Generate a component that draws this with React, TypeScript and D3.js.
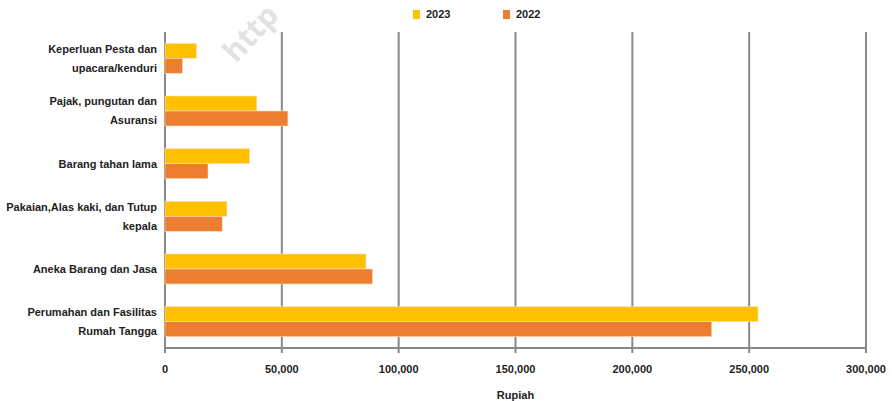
import React from "react";
import * as d3 from "d3";

const categories = [
  ["Keperluan Pesta dan", "upacara/kenduri"],
  ["Pajak, pungutan dan", "Asuransi"],
  ["Barang tahan lama"],
  ["Pakaian,Alas kaki, dan Tutup", "kepala"],
  ["Aneka Barang dan Jasa"],
  ["Perumahan dan Fasilitas", "Rumah Tangga"],
];
const values2023 = [13500, 39300, 36200, 26500, 86000, 253800];
const values2022 = [7500, 52600, 18400, 24500, 88800, 234000];
const seriesNames = ["2023", "2022"];
const seriesColors = ["#FFC000", "#ED7D31"];
const xTicks = [0, 50000, 100000, 150000, 200000, 250000, 300000];
const xTitle = "Rupiah";
const watermark = "http";

const W = 893;
const H = 401;
const FONT = "'Liberation Sans', Arial, sans-serif";

export default function App() {
  const left = 165;
  const right = 866;
  const top = 32;
  const bottom = 348;
  const x = d3.scaleLinear().domain([0, 300000]).range([left, right]);
  const y = d3
    .scaleBand<number>()
    .domain(d3.range(categories.length))
    .range([top, bottom]);
  const barH = 15;
  const fmt = d3.format(",");
  const series = [values2023, values2022];

  return (
    <svg
      width={W}
      height={H}
      style={{ position: "absolute", left: 0, top: 0, background: "#fff" }}
      fontFamily={FONT}
    >
      {/* watermark */}
      <text
        x={236}
        y={64}
        transform="rotate(-47 236 64)"
        fontSize={30}
        fontWeight="bold"
        fill="#e2e2e2"
        fontFamily="'Open Sans', sans-serif"
      >
        {watermark}
      </text>

      {/* gridlines */}
      {xTicks.map((t) => (
        <line
          key={"g" + t}
          x1={x(t)}
          x2={x(t)}
          y1={top}
          y2={bottom + 5}
          stroke="#8a8a8a"
          strokeWidth={2}
        />
      ))}
      <line x1={left} x2={right} y1={bottom} y2={bottom} stroke="#8a8a8a" strokeWidth={2} />

      {/* bars */}
      {categories.map((c, i) => {
        const cy = (y(i) as number) + y.bandwidth() / 2;
        return (
          <g key={"b" + i}>
            {series.map((vals, s) => (
              <rect
                key={s}
                x={x(0)}
                y={cy - barH + s * barH}
                width={x(vals[i]) - x(0)}
                height={barH}
                fill={seriesColors[s]}
                stroke="#fde2c0"
                strokeWidth={0.6}
              />
            ))}
          </g>
        );
      })}

      {/* category labels */}
      {categories.map((lines, i) => {
        const cy = (y(i) as number) + y.bandwidth() / 2;
        const lh = 19;
        const start = cy - ((lines.length - 1) * lh) / 2;
        return (
          <text
            key={"l" + i}
            textAnchor="end"
            fontSize={11}
            fontWeight="bold"
            fill="#222"
          >
            {lines.map((ln, k) => (
              <tspan key={k} x={157} y={start + k * lh} dy="0.35em">
                {ln}
              </tspan>
            ))}
          </text>
        );
      })}

      {/* x tick labels */}
      {xTicks.map((t) => (
        <text
          key={"t" + t}
          x={x(t)}
          y={369}
          dy="0.35em"
          textAnchor="middle"
          fontSize={11}
          fontWeight="bold"
          fill="#222"
        >
          {fmt(t)}
        </text>
      ))}
      <text x={x(150000)} y={395} dy="0.35em" textAnchor="middle" fontSize={11} fontWeight="bold" fill="#222">
        {xTitle}
      </text>

      {/* legend */}
      {seriesNames.map((n, s) => (
        <g key={"lg" + s} transform={`translate(${413 + s * 90},10)`}>
          <rect x={0} y={0} width={7} height={9} fill={seriesColors[s]} />
          <text x={13} y={4.5} dy="0.35em" fontSize={11} fontWeight="bold" fill="#222">
            {n}
          </text>
        </g>
      ))}
    </svg>
  );
}
